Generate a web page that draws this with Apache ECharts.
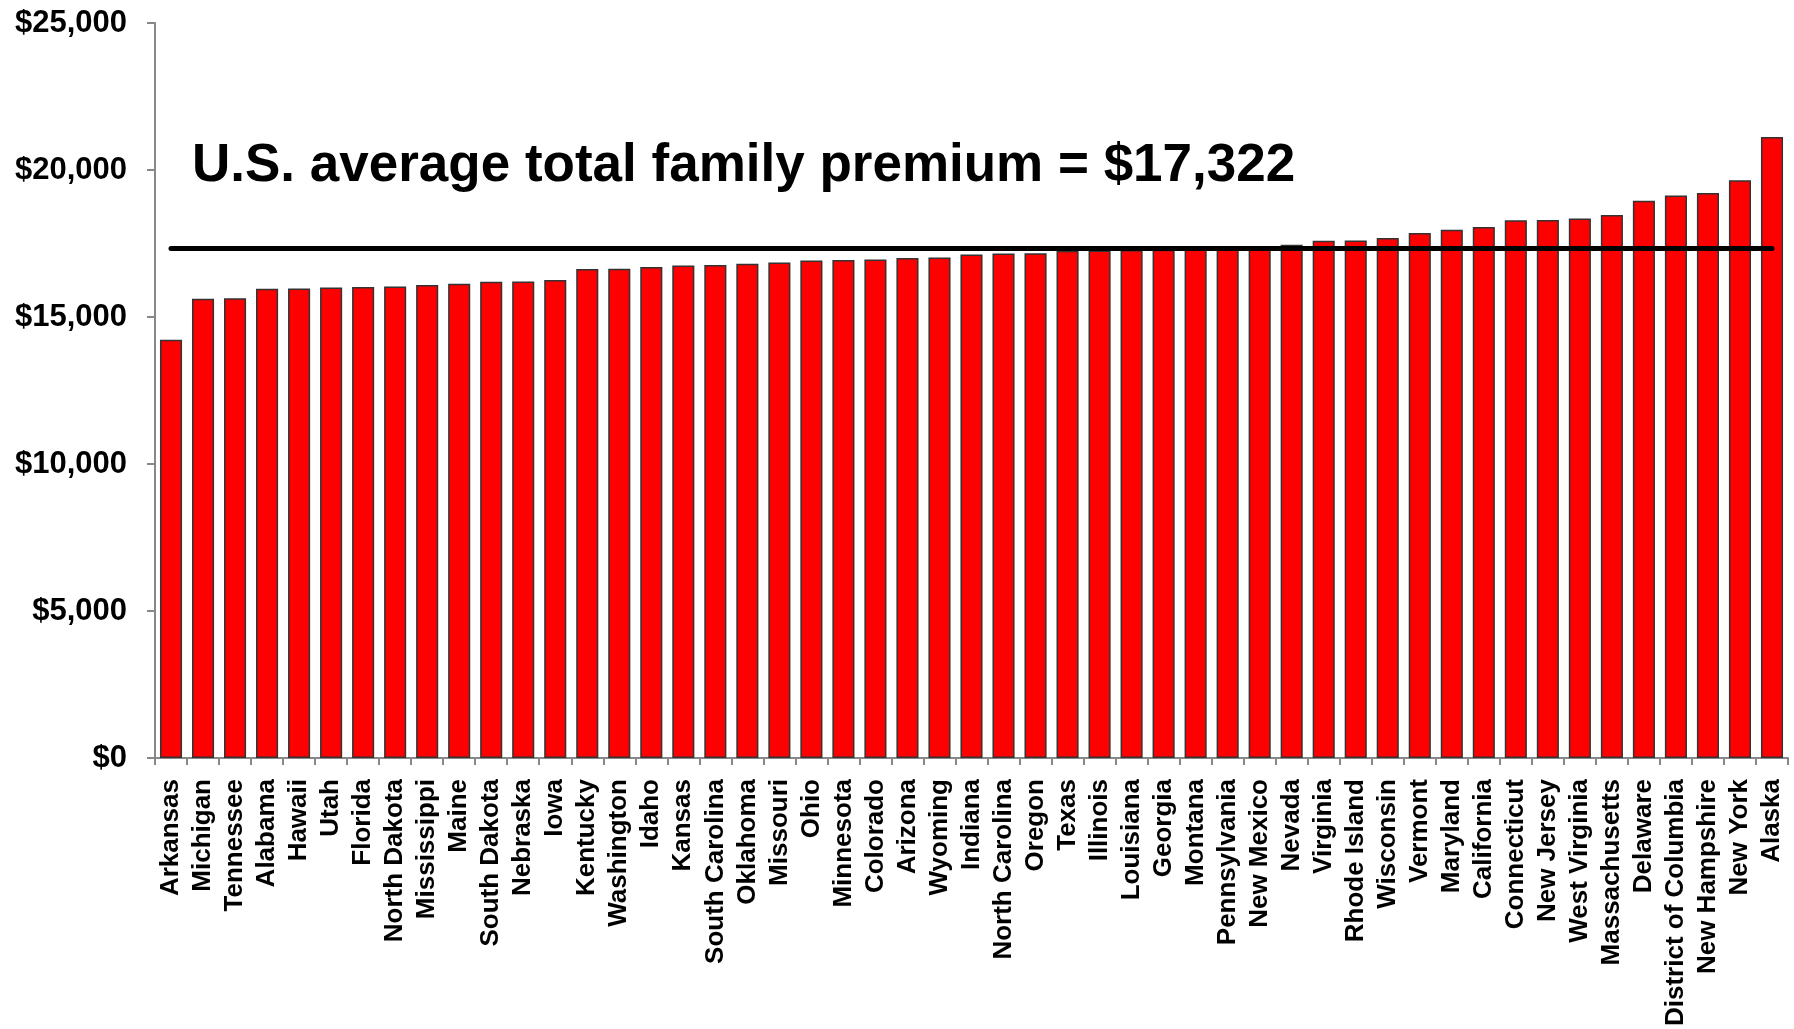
<!DOCTYPE html>
<html>
<head>
<meta charset="utf-8">
<script src="https://cdn.jsdelivr.net/npm/echarts@6/dist/echarts.min.js"></script>
<style>html,body{margin:0;padding:0;background:#fff}#c{width:1794px;height:1029px}</style>
</head>
<body>
<div id="c"></div>
<script>
const states = ["Arkansas","Michigan","Tennessee","Alabama","Hawaii","Utah","Florida","North Dakota","Mississippi","Maine","South Dakota","Nebraska","Iowa","Kentucky","Washington","Idaho","Kansas","South Carolina","Oklahoma","Missouri","Ohio","Minnesota","Colorado","Arizona","Wyoming","Indiana","North Carolina","Oregon","Texas","Illinois","Louisiana","Georgia","Montana","Pennsylvania","New Mexico","Nevada","Virginia","Rhode Island","Wisconsin","Vermont","Maryland","California","Connecticut","New Jersey","West Virginia","Massachusetts","Delaware","District of Columbia","New Hampshire","New York","Alaska"];
const premiums = [14230,15620,15640,15960,15970,16000,16020,16040,16090,16130,16200,16210,16260,16630,16640,16700,16750,16770,16810,16850,16920,16940,16960,17010,17020,17130,17160,17170,17250,17260,17280,17290,17300,17320,17340,17460,17590,17600,17690,17860,17970,18060,18290,18300,18350,18470,18950,19130,19220,19650,21120];
const usAverage = 17322;
const yTicks = [0,5000,10000,15000,20000,25000];
const titleText = "U.S. average total family premium = $17,322";

const FONT = '"Liberation Sans", Arial, sans-serif';
const chart = echarts.init(document.getElementById('c'), null, {renderer:'canvas'});
chart.setOption({
  animation:false,
  backgroundColor:'#fff',
  graphic:[{
    type:'text', left:192, top:140, z:10,
    style:{text:titleText, font:'bold 53px '+FONT, fill:'#000'}
  }],
  grid:{left:155, right:6, top:23, bottom:271, containLabel:false, outerBoundsMode:'none'},
  xAxis:{
    type:'category', data:states, boundaryGap:true,
    axisLine:{lineStyle:{color:'#888', width:2}},
    axisTick:{show:true, alignWithLabel:false, length:7, lineStyle:{color:'#888', width:2}},
    axisLabel:{interval:0, rotate:90, margin:21, color:'#000', fontFamily:FONT, fontWeight:'bold', fontSize:26}
  },
  yAxis:{
    type:'value', min:0, max:yTicks[yTicks.length-1], interval:5000,
    splitLine:{show:false},
    axisLine:{show:true, lineStyle:{color:'#888', width:2}},
    axisTick:{show:true, length:8, lineStyle:{color:'#888', width:2}},
    axisLabel:{margin:28, color:'#000', fontFamily:FONT, fontWeight:'bold', fontSize:31,
      formatter:v=>'$'+v.toLocaleString('en-US')}
  },
  series:[{
    type:'bar', data:premiums, barCategoryGap:'31%',
    itemStyle:{color:'#ff0000', borderColor:'#333', borderWidth:1.5},
    markLine:{
      silent:true, symbol:['none','none'], z:5,
      label:{show:false},
      lineStyle:{color:'#000', width:5, type:'solid', cap:'round'},
      data:[[{coord:[states[0], usAverage]},{coord:[states[states.length-1], usAverage]}]]
    }
  }]
});
</script>
</body>
</html>
